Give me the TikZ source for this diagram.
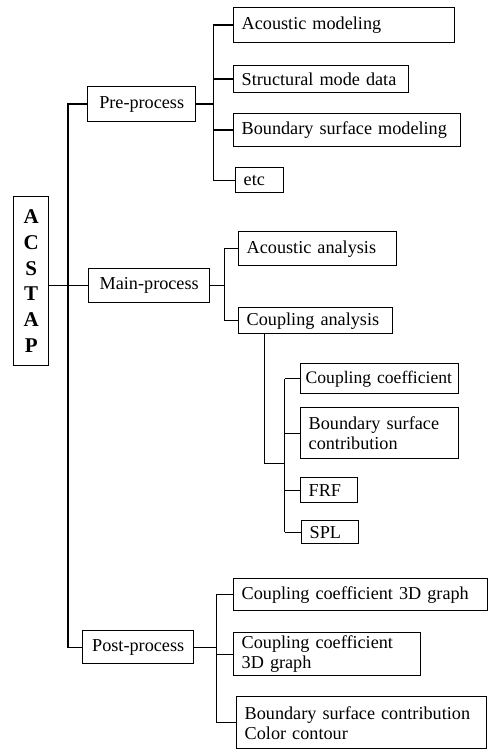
\documentclass[tikz,border=0pt]{standalone}
\usepackage{fontspec}
\setmainfont{Liberation Serif}
\newcommand\lblfont{\fontsize{18.2}{20}\selectfont\hyphenpenalty10000 \exhyphenpenalty10000 }
\begin{document}
\begin{tikzpicture}[x=1pt,y=-1pt,
  every path/.style={line width=1.4pt},
  lbl/.style={draw, line width=1.4pt, inner xsep=8pt, inner ysep=0pt, align=left, anchor=north west,
    font=\lblfont},
  proc/.style={draw, line width=1.4pt, inner sep=0pt, anchor=north west, align=center,
    font=\fontsize{18.2}{20}\selectfont},
  title/.style={draw, line width=1.4pt, inner sep=0pt, anchor=north west, align=center,
    font=\fontsize{21}{25.7}\selectfont\bfseries}]
\useasboundingbox (0,0) rectangle (488,749);
% root
\node[title, minimum width=35pt, minimum height=169pt] (acstap) at (13,196) {A\\C\\S\\T\\A\\P};
% level 1
\node[proc, minimum width=108pt, minimum height=35pt] (pre) at (87,86) {Pre-process};
\node[proc, minimum width=121pt, minimum height=34pt] (main) at (88,268) {Main-process};
\node[proc, minimum width=111pt, minimum height=33pt] (post) at (82,630) {Post-process};
% pre children
\node[lbl, text width=205pt, minimum height=35pt] (am) at (233,7) {Acoustic modeling};
\node[lbl, text width=159pt, minimum height=27pt] (smd) at (233,65) {Structural mode data};
\node[lbl, text width=211pt, minimum height=33pt] (bsm) at (233,113) {Boundary surface modeling};
\node[lbl, text width=32pt, minimum height=25pt] (etcbox) at (235,167) {etc};
% main children
\node[lbl, text width=142pt, minimum height=34pt] (aa) at (238,231) {Acoustic analysis};
\node[lbl, text width=138pt, minimum height=26pt] (ca) at (238,307) {Coupling analysis};
\node[lbl, inner xsep=5pt, text width=148pt, minimum height=30pt, font=\fontsize{17.6}{20}\selectfont] (cc) at (300,363) {\mbox{Coupling coefficient}};
\node[lbl, text width=142pt, minimum height=51pt] (bsc) at (300,407) {Boundary surface\\contribution};
\node[lbl, text width=41pt, minimum height=25pt] (frf) at (300,477) {FRF};
\node[lbl, text width=41pt, minimum height=23pt] (spl) at (301,520) {SPL};
% post children
\node[lbl, text width=238pt, minimum height=32pt] (cc3d) at (233,578) {Coupling coefficient 3D graph};
\node[lbl, text width=171pt, minimum height=43pt] (cc3dtwo) at (233,632) {Coupling coefficient\\3D graph};
\node[lbl, text width=234pt, minimum height=52pt] (bscc) at (236,696) {Boundary surface contribution\\Color contour};
% connectors
\draw (acstap.east |- main.west) -- (main.west);
\draw (pre.west) -- ++(-19,0) |- (post.west);
\draw (pre.east) -- ++(17,0) coordinate (pb);
\foreach \n in {am,smd,bsm,etcbox} \draw (pb) |- (\n.west);
\draw (main.east) -- ++(14,0) coordinate (mb);
\foreach \n in {aa,ca} \draw (mb) |- (\n.west);
\coordinate (sa) at (264.5,0);
\coordinate (sb) at (284.5,463.5);
\draw (ca.south -| sa) |- (sb);
\draw (sb |- cc.west) -- (sb |- spl.west);
\foreach \n in {cc,bsc,frf,spl} \draw (sb |- \n.west) -- (\n.west);
\draw (post.east) -- ++(22,0) coordinate (qb);
\foreach \n in {cc3d,cc3dtwo,bscc} \draw (qb) |- (\n.west);
\end{tikzpicture}
\end{document}
